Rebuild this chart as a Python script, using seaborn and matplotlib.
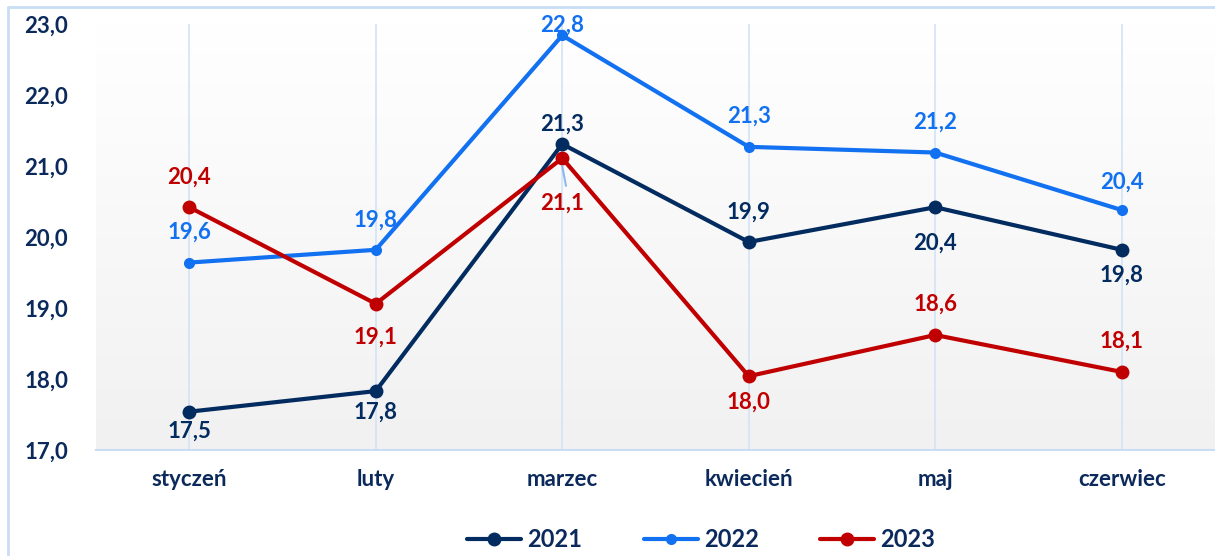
import numpy as np
import pandas as pd
import matplotlib
matplotlib.use("Agg")
import matplotlib.pyplot as plt
from matplotlib.lines import Line2D
import seaborn as sns

# --- data ---
months = ["styczeń", "luty", "marzec", "kwiecień", "maj", "czerwiec"]
years = ["2021", "2022", "2023"]
v2021 = [17.54, 17.83, 21.31, 19.93, 20.42, 19.82]
v2022 = [19.64, 19.82, 22.84, 21.27, 21.19, 20.38]
v2023 = [20.42, 19.06, 21.11, 18.04, 18.62, 18.10]
yticks = [17, 18, 19, 20, 21, 22, 23]

df = pd.DataFrame({
    "month": months * 3,
    "year": [y for y in years for _ in months],
    "value": v2021 + v2022 + v2023,
})

colors = {"2021": "#022B60", "2022": "#1171F0", "2023": "#C00000"}
msize = {"2021": 10, "2022": 8, "2023": 10}
# label offsets in pixels (above +, below -)
offsets = {
    "2021": [-20, -21, 20, 30, -36, -25],
    "2022": [30, 30, 10, 31, 30, 28],
    "2023": [30, -33, -45, -26, 31, 31],
}
navy = "#0B2A5B"

sns.set_theme(style="white")
plt.rcParams["font.family"] = ["Lato", "DejaVu Sans"]

fig = plt.figure(figsize=(12.15, 5.56), dpi=100)
ax = fig.add_axes([0.079, 0.1906, 0.921, 0.7662])

# gradient background
grad = np.linspace(0, 1, 256).reshape(-1, 1)
cmap = matplotlib.colors.LinearSegmentedColormap.from_list("g", ["#F1F1F1", "#FFFFFF"])
ax.imshow(grad, aspect="auto", cmap=cmap, origin="lower",
          extent=[-0.5, 5.5, 17, 23], zorder=0)

for i in range(len(months)):
    ax.axvline(i, color="#D2E3F7", lw=1.2, zorder=1)

for y in years:
    sub = df[df["year"] == y]
    sns.lineplot(data=sub, x="month", y="value", color=colors[y], lw=3,
                 marker="o", markersize=msize[y], markeredgewidth=0,
                 ax=ax, zorder=3, sort=False)
    for i, (m, v) in enumerate(zip(sub["month"], sub["value"])):
        txt = f"{v:.1f}".replace(".", ",")
        off = offsets[y][i]
        ax.annotate(txt, (i, v), xytext=(0, off), textcoords="offset pixels",
                    ha="center", va="center", fontsize=16, color=colors[y],
                    fontweight="bold", zorder=5)

# leader line for 21,1
ax.plot([2.0, 2.02], [21.0, 20.72], color="#8DB8EE", lw=1.5, zorder=4)

ax.set_xlim(-0.5, 5.5)
ax.set_ylim(17, 23)
ax.set_yticks(yticks)
ax.set_yticklabels([f"{t:.1f}".replace(".", ",") for t in yticks])
ax.set_xlabel("")
ax.set_ylabel("")
ax.tick_params(axis="y", length=0, pad=20, labelsize=16, labelcolor=navy)
ax.tick_params(axis="x", length=0, pad=14, labelsize=16, labelcolor=navy)
for lab in ax.get_xticklabels() + ax.get_yticklabels():
    lab.set_fontweight("bold")
for s in ["left", "right", "top"]:
    ax.spines[s].set_visible(False)
ax.spines["bottom"].set_color("#C9DDF5")
ax.spines["bottom"].set_linewidth(1.5)
ax.legend_ = None

# frame lines of chart area
fig.add_artist(Line2D([0.0066, 0.0066], [0, 0.987], color="#C9DDF5", lw=2))
fig.add_artist(Line2D([0.0066, 1.0], [0.987, 0.987], color="#C9DDF5", lw=2))

handles = [Line2D([0], [0], color=colors[y], lw=3, marker="o",
                  markersize=msize[y], markeredgewidth=0) for y in years]
leg = fig.legend(handles, years, loc="center", bbox_to_anchor=(0.577, 0.03),
                 ncol=3, frameon=False, fontsize=17, handlelength=2.3,
                 columnspacing=2.6, handletextpad=0.25)
for t in leg.get_texts():
    t.set_color(navy)
    t.set_fontweight("bold")

fig.savefig("out.png", dpi=100)
